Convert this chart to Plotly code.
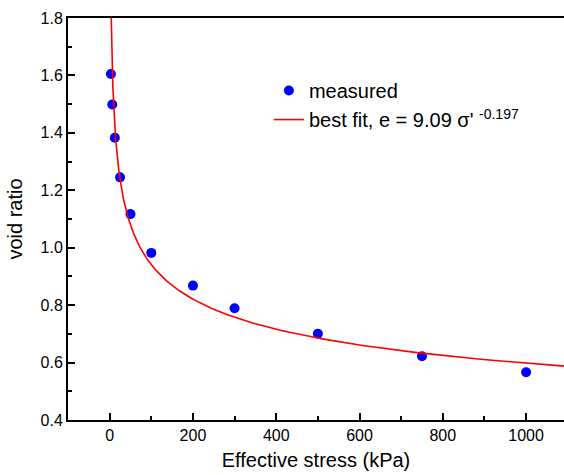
import numpy as np
import plotly.graph_objects as go

# measured data
stress_kpa = [3, 6.25, 12.5, 25, 50, 100, 200, 300, 500, 750, 1000]
void_ratio = [1.605, 1.499, 1.383, 1.245, 1.117, 0.982, 0.868, 0.789, 0.700, 0.622, 0.566]

# best-fit power law parameters (sigma' in Pa): e = a * sigma'^b
fit_a = 9.09
fit_b = -0.197
fit_stress_range = [3.4, 1100]

x_ticks = [0, 200, 400, 600, 800, 1000]
y_ticks = [0.4, 0.6, 0.8, 1.0, 1.2, 1.4, 1.6, 1.8]

fit_x = np.geomspace(fit_stress_range[0], fit_stress_range[1], 400)
fit_y = fit_a * (fit_x * 1000.0) ** fit_b

FONT = "Liberation Sans, Arial, sans-serif"

fig = go.Figure()
fig.add_trace(go.Scatter(
    x=stress_kpa, y=void_ratio, mode="markers", name="measured",
    marker=dict(color="rgb(0,0,255)", size=10, line=dict(width=0)),
))
fig.add_trace(go.Scatter(
    x=fit_x, y=fit_y, mode="lines",
    name="best fit, e = 9.09 σ' <sup>-0.197</sup>",
    line=dict(color="rgb(255,0,0)", width=1.6),
))

fig.update_layout(
    width=564, height=475,
    margin=dict(l=68, r=0, t=18, b=55),
    paper_bgcolor="white", plot_bgcolor="white",
    font=dict(family=FONT, color="black"),
    showlegend=True,
    legend=dict(
        x=0.405, y=0.868, xanchor="left", yanchor="top",
        font=dict(size=20, family=FONT),
        bgcolor="rgba(0,0,0,0)", borderwidth=0,
        tracegroupgap=0,
    ),
    xaxis=dict(
        range=[-100, 1091],
        tickvals=x_ticks,
        ticks="inside", ticklen=7, tickwidth=2, tickcolor="black",
        minor=dict(dtick=100, tick0=0, ticks="inside", ticklen=4, tickwidth=2, tickcolor="black"),
        showline=True, linecolor="black", linewidth=2, mirror=True,
        showgrid=False, zeroline=False,
        tickfont=dict(size=16, family=FONT),
        title=dict(text="Effective stress (kPa)", font=dict(size=20, family=FONT), standoff=10),
    ),
    yaxis=dict(
        range=[0.4, 1.8],
        tickvals=y_ticks, tickformat=".1f",
        ticks="inside", ticklen=7, tickwidth=2, tickcolor="black",
        minor=dict(dtick=0.1, tick0=0.4, ticks="inside", ticklen=4, tickwidth=2, tickcolor="black"),
        showline=True, linecolor="black", linewidth=2, mirror=False,
        showgrid=False, zeroline=False,
        tickfont=dict(size=16, family=FONT),
        title=dict(text="void ratio", font=dict(size=20, family=FONT), standoff=13),
    ),
)

fig.write_html("out.html")
